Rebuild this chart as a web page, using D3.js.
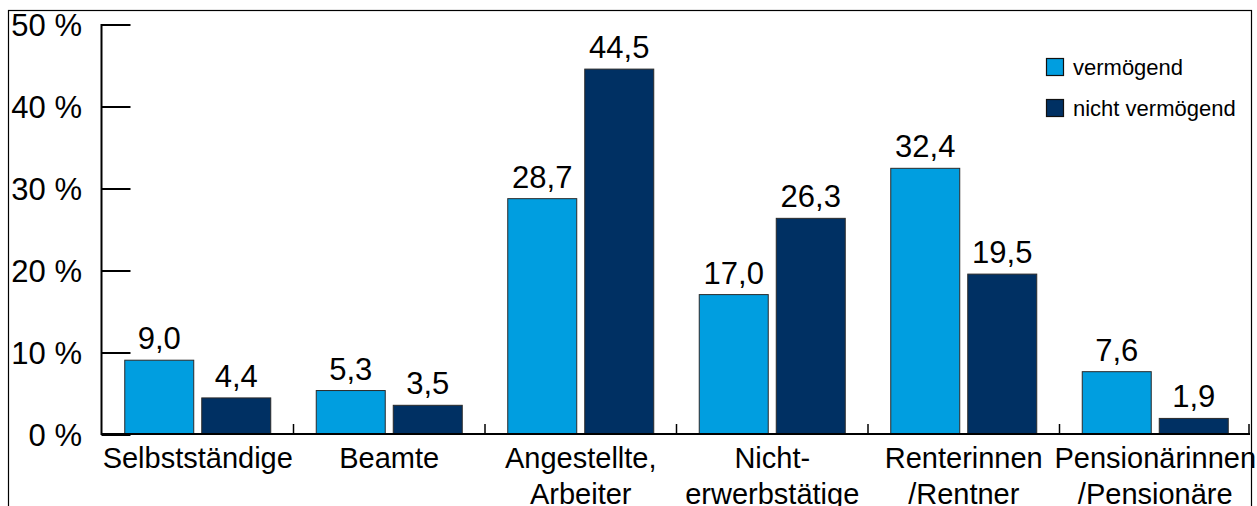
<!DOCTYPE html>
<html>
<head>
<meta charset="utf-8">
<script src="https://cdn.jsdelivr.net/npm/d3@7"></script>
<style>
  html, body { margin: 0; padding: 0; background: #fff; }
  svg { display: block; }
  text { font-family: "Liberation Sans", Arial, sans-serif; fill: #000; }
</style>
</head>
<body>
<svg id="chart" width="1257" height="506"></svg>
<script>
const categories = ["Selbstständige", "Beamte", "Angestellte,\nArbeiter", "Nicht-\nerwerbstätige", "Renterinnen\n/Rentner", "Pensionärinnen\n/Pensionäre"];
const seriesNames = ["vermögend", "nicht vermögend"];
const vermoegend = [9.0, 5.3, 28.7, 17.0, 32.4, 7.6];
const nichtVermoegend = [4.4, 3.5, 44.5, 26.3, 19.5, 1.9];
const yTicks = [0, 10, 20, 30, 40, 50];
const colors = ["#009EE0", "#003063"];

const svg = d3.select("#chart");
const seriesValues = [vermoegend, nichtVermoegend];

// outer frame
svg.append("rect")
  .attr("x", 8.5).attr("y", 10.5)
  .attr("width", 1243).attr("height", 600)
  .attr("fill", "none").attr("stroke", "#000").attr("stroke-width", 1.2);

const x0 = d3.scaleBand().domain(categories).range([102, 1251]).paddingInner(0).paddingOuter(0);
const x1 = d3.scaleBand().domain(seriesNames).range([0, x0.bandwidth()]).paddingInner(0.104).paddingOuter(0.2955);
const y = d3.scaleLinear().domain([0, 50]).range([434, 24]);

// y axis
const yAxis = d3.axisRight(y).tickValues(yTicks).tickSize(29).tickFormat("");
const gy = svg.append("g").attr("transform", "translate(101.5,0)").call(yAxis);
gy.select(".domain").remove();
gy.selectAll(".tick line").attr("stroke", "#000").attr("stroke-width", 2).attr("transform", "translate(0,0.5)");
svg.append("line").attr("x1", 101.5).attr("x2", 101.5).attr("y1", y(50)).attr("y2", y(0) + 1)
  .attr("stroke", "#000").attr("stroke-width", 2);

svg.selectAll(".ylab").data(yTicks).enter().append("text")
  .attr("class", "ylab")
  .attr("x", 82).attr("y", d => y(d) + 12)
  .attr("text-anchor", "end")
  .attr("font-size", 31)
  .text(d => d + " %");

// bars
const groups = svg.selectAll(".grp").data(categories).enter().append("g")
  .attr("transform", d => `translate(${x0(d)},0)`);

seriesNames.forEach((s, si) => {
  groups.append("rect")
    .attr("x", x1(s))
    .attr("y", (d, i) => y(seriesValues[si][i]))
    .attr("width", x1.bandwidth())
    .attr("height", (d, i) => y(0) - y(seriesValues[si][i]))
    .attr("fill", colors[si])
    .attr("stroke", "#2a2a2a").attr("stroke-width", 1);
  groups.append("text")
    .attr("x", x1(s) + x1.bandwidth() / 2)
    .attr("y", (d, i) => y(seriesValues[si][i]) - 11)
    .attr("text-anchor", "middle")
    .attr("font-size", 31)
    .text((d, i) => d3.format(".1f")(seriesValues[si][i]).replace(".", ","));
});

// x axis
svg.append("line").attr("x1", 101).attr("x2", 1250).attr("y1", 434).attr("y2", 434)
  .attr("stroke", "#000").attr("stroke-width", 2);
const bounds = categories.map(c => x0(c)).slice(1).concat([x0.range()[1] - 2]);
svg.selectAll(".xtick").data(bounds).enter().append("line")
  .attr("x1", d => d).attr("x2", d => d).attr("y1", 434).attr("y2", 424)
  .attr("stroke", "#000").attr("stroke-width", 1.5);

// category labels
svg.selectAll(".xlab").data(categories).enter().append("text")
  .attr("class", "xlab")
  .attr("text-anchor", "middle")
  .attr("font-size", 29)
  .each(function(d) {
    const lines = d.split("\n");
    const cx = x0(d) + x0.bandwidth() / 2;
    lines.forEach((ln, li) => {
      d3.select(this).append("tspan")
        .attr("x", cx).attr("y", 468 + li * 36)
        .text(ln);
    });
  });

// legend
const legend = svg.append("g");
seriesNames.forEach((s, i) => {
  legend.append("rect")
    .attr("x", 1046.5).attr("y", 58.5 + i * 41)
    .attr("width", 17).attr("height", 17)
    .attr("fill", colors[i]).attr("stroke", "#111").attr("stroke-width", 1.2);
  legend.append("text")
    .attr("x", 1073).attr("y", 75 + i * 41)
    .attr("font-size", 22)
    .text(s);
});
</script>
</body>
</html>
